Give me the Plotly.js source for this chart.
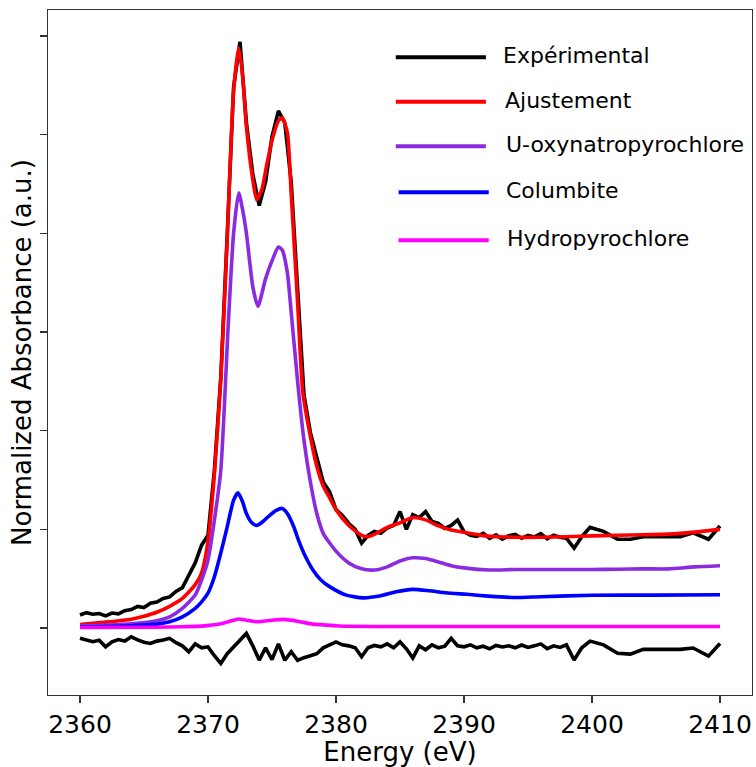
<!DOCTYPE html>
<html>
<head>
<meta charset="utf-8">
<script src="https://cdn.plot.ly/plotly-3.0.1.min.js"></script>
<style>html,body{margin:0;padding:0;background:#fff;}#chart{width:756px;height:767px;}</style>
</head>
<body>
<div id="chart"></div>
<script>
// ---- data ----
const seriesNames = ["Expérimental", "Ajustement", "U-oxynatropyrochlore", "Columbite", "Hydropyrochlore"];
const xTickVals = [2360, 2370, 2380, 2390, 2400, 2410];
const yTickVals = [0, 0.5, 1.0, 1.5, 2.0, 2.5, 3.0];

const energyExp = [2360.0,2360.5,2361.0,2361.5,2362.0,2362.5,2363.0,2363.5,2364.0,2364.5,
  2365.0,2365.5,2366.0,2366.5,2367.0,2367.5,2368.0,2368.5,2369.0,2369.5,
  2370.0,2370.5,2371.0,2371.5,2372.0,2372.5,2373.0,2373.5,2374.0,2374.5,
  2375.0,2375.5,2376.0,2376.5,2377.0,2377.5,2378.0,2378.5,2379.0,2379.5,
  2380.0,2380.5,2381.0,2381.5,2382.0,2382.5,2383.0,2383.5,2384.0,2384.5,
  2385.0,2385.5,2386.0,2386.5,2387.0,2387.5,2388.0,2388.5,2389.0,2389.5,
  2390.0,2390.5,2391.0,2391.5,2392.0,2392.5,2393.0,2393.5,2394.0,2394.5,
  2395.0,2395.5,2396.0,2396.5,2397.0,2397.5,2398.0,
  2398.6,2399.2,2399.85,2400.9,2402.0,2403.0,2404.0,2406.9,2407.9,2409.1,2410.0];

const experimental = [0.066,0.078,0.070,0.074,0.062,0.076,0.072,0.088,0.094,0.110,
  0.104,0.126,0.132,0.150,0.158,0.186,0.205,0.272,0.330,0.420,
  0.470,0.800,1.270,1.990,2.740,2.970,2.560,2.300,2.140,2.260,
  2.490,2.620,2.560,2.260,1.680,1.180,0.990,0.860,0.740,0.690,
  0.600,0.570,0.530,0.500,0.430,0.470,0.490,0.480,0.507,0.520,
  0.590,0.500,0.575,0.560,0.590,0.540,0.530,0.505,0.520,0.547,
  0.488,0.470,0.465,0.480,0.455,0.472,0.450,0.468,0.475,0.455,
  0.470,0.462,0.478,0.452,0.470,0.460,0.455,
  0.405,0.463,0.510,0.490,0.450,0.450,0.463,0.463,0.483,0.450,0.517];

const residual = [-0.052,-0.060,-0.069,-0.062,-0.095,-0.070,-0.058,-0.066,-0.044,-0.060,
  -0.072,-0.078,-0.066,-0.060,-0.052,-0.074,-0.090,-0.120,-0.080,-0.100,
  -0.095,-0.140,-0.179,-0.130,-0.095,-0.060,-0.027,-0.090,-0.162,-0.100,
  -0.160,-0.080,-0.163,-0.120,-0.163,-0.150,-0.140,-0.130,-0.100,-0.085,
  -0.070,-0.085,-0.090,-0.100,-0.145,-0.100,-0.088,-0.095,-0.080,-0.100,
  -0.070,-0.105,-0.152,-0.090,-0.110,-0.085,-0.100,-0.092,-0.052,-0.090,
  -0.095,-0.085,-0.100,-0.092,-0.105,-0.088,-0.096,-0.090,-0.100,-0.086,
  -0.098,-0.090,-0.080,-0.104,-0.090,-0.098,-0.085,
  -0.162,-0.100,-0.066,-0.085,-0.128,-0.132,-0.108,-0.108,-0.101,-0.142,-0.078];

const energyFit = [2360,2362,2364,2365,2366,2367,2368,2369,2369.5,2370,2370.5,2371,2371.5,2372,2372.4,2372.7,
  2373,2373.5,2373.8,2374.2,2374.6,2375,2375.5,2375.8,2376.2,2376.5,2377,2377.4,2378,2378.5,2379,2379.5,
  2380,2381,2382,2382.5,2383,2384,2385,2386,2387,2388,2389,2390,2391,2392,2394,2396,2398,2400,2402,2404,2406,2408,2410];
const fit = [0.018,0.030,0.045,0.060,0.080,0.110,0.150,0.220,0.280,0.440,0.780,1.260,1.970,2.720,2.940,2.800,
  2.540,2.270,2.170,2.220,2.350,2.470,2.570,2.585,2.510,2.200,1.650,1.200,0.970,0.820,0.720,0.660,
  0.600,0.520,0.470,0.463,0.475,0.510,0.533,0.560,0.548,0.518,0.497,0.485,0.474,0.465,0.460,0.460,0.463,0.467,0.470,0.473,0.476,0.486,0.500];

const energyU = [2360,2362,2364,2366,2367,2368,2369,2369.5,2370,2370.5,2371,2371.6,2372,2372.4,2372.7,2373,
  2373.5,2373.9,2374.5,2375,2375.5,2375.8,2376.2,2376.5,2377,2377.5,2378,2378.5,2379,2380,2381,2382,
  2383,2384,2385,2386,2387,2388,2389,2390,2392,2394,2396,2398,2400,2402,2404,2406,2408,2410];
const uOxy = [0.010,0.015,0.022,0.037,0.057,0.100,0.167,0.243,0.344,0.547,0.800,1.560,2.000,2.205,2.120,2.000,
  1.730,1.630,1.770,1.860,1.930,1.915,1.800,1.600,1.250,0.950,0.740,0.580,0.480,0.390,0.330,0.300,
  0.294,0.310,0.340,0.356,0.352,0.335,0.316,0.305,0.294,0.297,0.297,0.297,0.297,0.298,0.300,0.300,0.310,0.316];

const energyCol = [2360,2362,2364,2366,2367,2368,2369,2369.5,2370,2370.5,2371,2371.5,2372,2372.35,2372.7,2373,
  2373.4,2373.8,2374.3,2374.8,2375.3,2375.8,2376.2,2376.7,2377.1,2377.5,2378.2,2378.8,2379.5,2380.8,2382.1,
  2383.4,2384.7,2386,2387.3,2388.6,2390.2,2391.9,2394,2396,2400,2405,2410];
const columbite = [0.005,0.008,0.012,0.020,0.032,0.057,0.100,0.133,0.177,0.260,0.380,0.513,0.648,0.685,0.640,0.580,
  0.535,0.520,0.540,0.570,0.595,0.606,0.580,0.513,0.440,0.378,0.294,0.245,0.210,0.167,0.153,
  0.162,0.184,0.196,0.189,0.179,0.171,0.162,0.155,0.159,0.166,0.167,0.169];

const energyHydro = [2360,2366,2368,2369.5,2371,2372,2372.4,2373,2373.8,2375,2375.9,2377,2378.2,2380,2381,2385,2390,2400,2410];
const hydro = [0.003,0.004,0.007,0.010,0.022,0.040,0.046,0.040,0.032,0.040,0.044,0.035,0.020,0.012,0.009,0.008,0.008,0.008,0.008];

const colors = ["#000000", "#ff0000", "#8a2be2", "#0000ff", "#ff00ff"];

// ---- traces ----
const lw = 3.6;
const traces = [
  {x: energyExp, y: experimental, name: seriesNames[0]},
  {x: energyFit, y: fit, name: seriesNames[1]},
  {x: energyU, y: uOxy, name: seriesNames[2]},
  {x: energyCol, y: columbite, name: seriesNames[3]},
  {x: energyHydro, y: hydro, name: seriesNames[4]},
].map((t, i) => Object.assign(t, {
  type: "scatter", mode: "lines", showlegend: false,
  line: {color: colors[i], width: lw, shape: i === 0 ? "linear" : "spline", smoothing: 0.6}
}));
traces.push({x: energyExp, y: residual, name: "Résidu", type: "scatter", mode: "lines",
  showlegend: false, line: {color: "#000000", width: lw}});

// ---- hand-made legend (lines + labels) ----
const legLineX = [[0.494, 0.622], [0.494, 0.622], [0.494, 0.622], [0.498, 0.626], [0.498, 0.626]];
const legY = [0.931, 0.866, 0.801, 0.734, 0.664];
const legTextX = [0.644, 0.647, 0.648, 0.648, 0.649];
const shapes = [], annotations = [];
seriesNames.forEach((n, i) => {
  shapes.push({type: "line", xref: "paper", yref: "paper", x0: legLineX[i][0], x1: legLineX[i][1],
    y0: legY[i], y1: legY[i], line: {color: colors[i], width: 4}});
  annotations.push({xref: "paper", yref: "paper", x: legTextX[i], y: legY[i] + 0.002, xanchor: "left", yanchor: "middle",
    text: n, showarrow: false, font: {family: "DejaVu Sans", size: 22, color: "#000"}});
});

const layout = {
  width: 756, height: 767,
  margin: {l: 48, r: 4, t: 10, b: 72},
  paper_bgcolor: "#fff", plot_bgcolor: "#fff",
  font: {family: "DejaVu Sans", color: "#000"},
  xaxis: {
    range: [2357.5, 2412.5], tickvals: xTickVals, ticktext: xTickVals.map(String),
    ticks: "outside", ticklen: 7, tickwidth: 1.3, tickcolor: "#333",
    showline: true, mirror: true, linecolor: "#333", linewidth: 1.3,
    showgrid: false, zeroline: false,
    tickfont: {family: "DejaVu Sans", size: 25, color: "#000"},
    title: {text: "Energy (eV)", font: {family: "DejaVu Sans", size: 26, color: "#000"}, standoff: 9}
  },
  yaxis: {
    range: [-0.339, 3.131], tickvals: yTickVals, showticklabels: false,
    ticks: "outside", ticklen: 7, tickwidth: 1.3, tickcolor: "#333",
    showline: true, mirror: true, linecolor: "#333", linewidth: 1.3,
    showgrid: false, zeroline: false,
    title: {text: "Normalized Absorbance (a.u.)", font: {family: "DejaVu Sans", size: 26, color: "#000"}, standoff: 0}
  },
  shapes: shapes,
  annotations: annotations
};

Plotly.newPlot("chart", traces, layout, {displayModeBar: false, staticPlot: true});
</script>
</body>
</html>
